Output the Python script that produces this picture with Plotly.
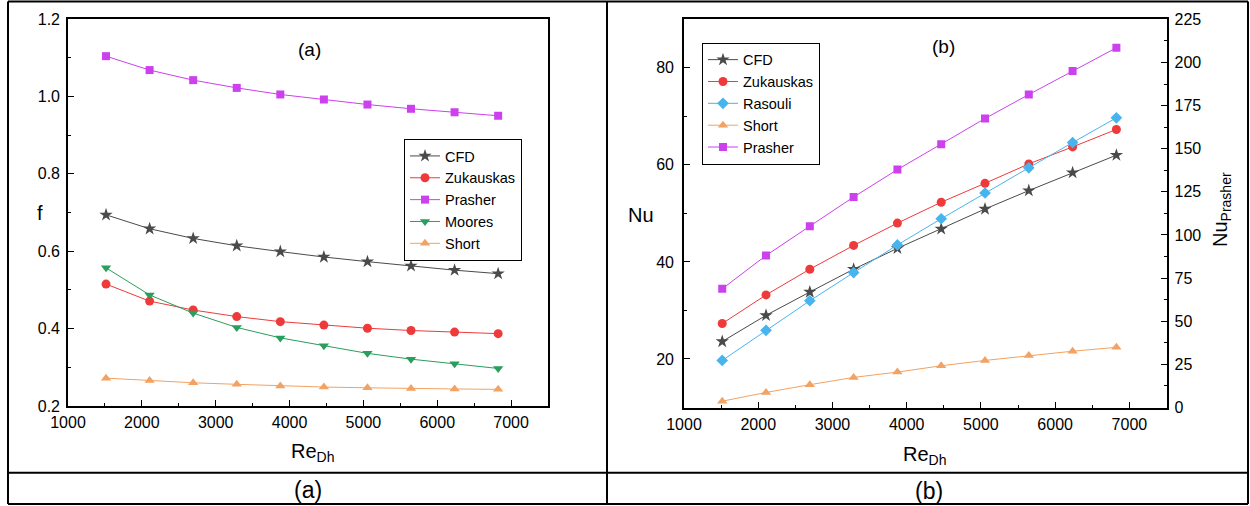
import plotly.graph_objects as go

# ---------------- data ----------------
re_dh = [1515, 2105, 2695, 3285, 3875, 4465, 5055, 5645, 6235, 6825]

# panel (a): friction factor
f_cfd = [0.694, 0.658, 0.633, 0.614, 0.599, 0.585, 0.573, 0.562, 0.551, 0.542]
f_zukauskas = [0.515, 0.471, 0.448, 0.431, 0.418, 0.409, 0.401, 0.395, 0.391, 0.387]
f_prasher = [1.104, 1.068, 1.042, 1.022, 1.005, 0.992, 0.979, 0.968, 0.959, 0.950]
f_moores = [0.557, 0.487, 0.440, 0.403, 0.376, 0.356, 0.336, 0.321, 0.309, 0.297]
f_short = [0.272, 0.266, 0.260, 0.256, 0.252, 0.249, 0.247, 0.245, 0.244, 0.243]

# panel (b): Nusselt number
nu_cfd = [23.6, 29.0, 33.8, 38.5, 42.8, 46.8, 50.9, 54.7, 58.4, 62.0]
nu_zukauskas = [27.3, 33.2, 38.5, 43.4, 48.0, 52.3, 56.2, 60.2, 63.7, 67.3]
nu_rasouli = [19.7, 25.9, 32.0, 37.8, 43.5, 48.9, 54.2, 59.4, 64.6, 69.7]
nu_short = [11.3, 13.1, 14.7, 16.2, 17.3, 18.6, 19.7, 20.7, 21.6, 22.4]
nu_prasher = [68.8, 88.1, 105.1, 122.0, 137.9, 152.6, 167.5, 181.4, 195.1, 208.5]

# ---------------- styles ----------------
C_CFD = "#4a4a4a"
C_ZUK = "#ee3a3a"
C_PRA = "#cc40ee"
C_MOO = "#2a9e5c"
C_SHO = "#f2a262"
C_RAS = "#48b4ee"

W, H = 1250, 506
FONT = "Liberation Sans, Arial, sans-serif"


def px_x(p):
    return p / W


def px_y(p):
    return 1 - p / H


fig = go.Figure()


def add(x, y, name, color, symbol, size, xaxis, yaxis, legend):
    fig.add_trace(go.Scatter(
        x=x, y=y, name=name, mode="lines+markers",
        line=dict(color=color, width=1),
        marker=dict(symbol=symbol, size=size, color=color, line=dict(width=0)),
        xaxis=xaxis, yaxis=yaxis, legend=legend,
    ))


# panel (a)
add(re_dh, f_cfd, "CFD", C_CFD, "star", 10, "x", "y", "legend")
add(re_dh, f_zukauskas, "Zukauskas", C_ZUK, "circle", 9, "x", "y", "legend")
add(re_dh, f_prasher, "Prasher", C_PRA, "square", 8, "x", "y", "legend")
add(re_dh, f_moores, "Moores", C_MOO, "triangle-down", 9, "x", "y", "legend")
add(re_dh, f_short, "Short", C_SHO, "triangle-up", 9, "x", "y", "legend")

# panel (b)
add(re_dh, nu_cfd, "CFD", C_CFD, "star", 10, "x2", "y2", "legend2")
add(re_dh, nu_zukauskas, "Zukauskas", C_ZUK, "circle", 9, "x2", "y2", "legend2")
add(re_dh, nu_rasouli, "Rasouli", C_RAS, "diamond", 9, "x2", "y2", "legend2")
add(re_dh, nu_short, "Short", C_SHO, "triangle-up", 9, "x2", "y2", "legend2")
add(re_dh, nu_prasher, "Prasher", C_PRA, "square", 8, "x2", "y3", "legend2")

tickfont = dict(family=FONT, size=16, color="black")
common_axis = dict(
    showline=True, linecolor="black", linewidth=1.6,
    ticks="inside", ticklen=6, tickwidth=1.2, tickcolor="black",
    showgrid=False, zeroline=False, tickfont=tickfont, automargin=False,
)

x_dom_a = [px_x(68), px_x(548)]
x_dom_b = [px_x(684), px_x(1166.5)]
y_dom_a = [px_y(406), px_y(19)]
y_dom_b = [px_y(407.5), px_y(19.3)]

minor_x = dict(dtick=500, ticklen=3, tickcolor="black", ticks="inside", showgrid=False)
legend_font = dict(family=FONT, size=14.5, color="black")

fig.update_layout(
    template="none",
    width=W, height=H,
    margin=dict(l=0, r=0, t=0, b=0, pad=0, autoexpand=False),
    paper_bgcolor="white", plot_bgcolor="white",
    font=dict(family=FONT, color="black"),
    xaxis=dict(domain=x_dom_a, anchor="y", range=[1000, 7500], dtick=1000, tick0=0,
               mirror=True, ticklabelstandoff=1, minor=minor_x, **common_axis),
    yaxis=dict(domain=y_dom_a, anchor="x", range=[0.2, 1.2], dtick=0.2, tick0=0,
               tickformat=".1f", mirror=True, ticklabelstandoff=3,
               minor=dict(dtick=0.1, ticklen=3, tickcolor="black", ticks="inside", showgrid=False),
               **common_axis),
    xaxis2=dict(domain=x_dom_b, anchor="y2", range=[1000, 7500], dtick=1000, tick0=0,
                mirror=True, ticklabelstandoff=1, minor=minor_x, **common_axis),
    yaxis2=dict(domain=y_dom_b, anchor="x2", range=[10, 90], dtick=20, tick0=0,
                ticklabelstandoff=5,
                minor=dict(dtick=10, ticklen=3, tickcolor="black", ticks="inside", showgrid=False),
                **common_axis),
    yaxis3=dict(overlaying="y2", anchor="x2", side="right", range=[0, 225], dtick=25,
                tick0=0, ticklabelstandoff=3,
                minor=dict(dtick=12.5, ticklen=3, tickcolor="black", ticks="inside", showgrid=False),
                **common_axis),
    legend=dict(x=px_x(404), y=px_y(139), xanchor="left", yanchor="top",
                bordercolor="black", borderwidth=1, bgcolor="white",
                font=legend_font, tracegroupgap=0, itemwidth=30),
    legend2=dict(x=px_x(702), y=px_y(42.7), xanchor="left", yanchor="top",
                 bordercolor="black", borderwidth=1, bgcolor="white",
                 font=legend_font, tracegroupgap=0, itemwidth=30),
    showlegend=True,
)

# ---------------- text annotations ----------------
def ann(text, x, y, size, angle=0):
    fig.add_annotation(text=text, x=px_x(x), y=px_y(y), xref="paper", yref="paper",
                       showarrow=False, xanchor="center", yanchor="middle",
                       textangle=angle, font=dict(family=FONT, size=size, color="black"))


ann("f", 40, 213, 20)
ann("Re<sub>Dh</sub>", 312, 452, 20)
ann("(a)", 309, 50, 19)
ann("Nu", 641, 215, 20)
ann("Re<sub>Dh</sub>", 924, 455, 20)
ann("(b)", 943, 46, 19)
ann("Nu<sub>Prasher</sub>", 1221, 210, 20, angle=-90)
ann("(a)", 308, 490, 23)
ann("(b)", 929, 491, 23)

# ---------------- table borders ----------------
line = dict(color="black", width=2)
for (x0, y0, x1, y1) in [
    (8, 1.5, 1248, 1.5),      # top
    (8, 504, 1248, 504),      # bottom
    (8, 1.5, 8, 504),         # left
    (1248, 1.5, 1248, 504),   # right
    (607, 1.5, 607, 504),     # middle
    (8, 472.7, 1248, 472.7),  # row separator
]:
    fig.add_shape(type="line", xref="paper", yref="paper",
                  x0=px_x(x0), y0=px_y(y0), x1=px_x(x1), y1=px_y(y1), line=line)

fig.write_html(
    "out.html",
    config=dict(displayModeBar=False),
    post_script="document.body.style.margin='0';document.body.style.overflow='hidden';",
)
